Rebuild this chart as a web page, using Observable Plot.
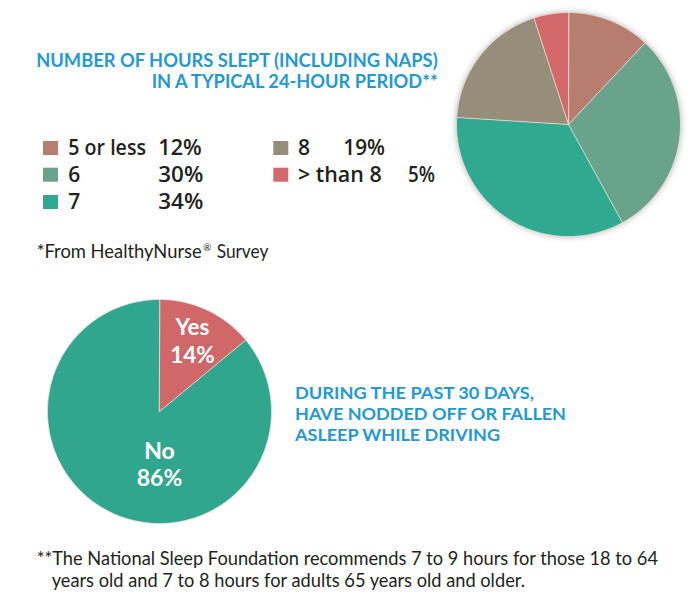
<!DOCTYPE html>
<html>
<head>
<meta charset="utf-8">
<script src="https://cdn.jsdelivr.net/npm/d3@7"></script>
<script src="https://cdn.jsdelivr.net/npm/@observablehq/plot@0.6"></script>
<style>
  body { margin: 0; background: #fff; }
  #page { position: relative; width: 700px; height: 614px; overflow: hidden; background: #fff; font-family: "Open Sans", sans-serif; }
  #page > svg { position: absolute; }
</style>
</head>
<body>
<div id="page"></div>
<script>
// ---------- DATA ----------
const hoursCats = ["5 or less", "6", "7", "8", "> than 8"];
const hoursValues = [12, 30, 34, 19, 5];
const hoursColors = ["#b77d6e", "#6aa38b", "#2fa98f", "#968d7b", "#d3696a"];

const drivingCats = ["Yes", "No"];
const drivingValues = [14, 86];
const drivingColors = ["#d0686a", "#30a68e"];

const titleTop = ["NUMBER OF HOURS SLEPT (INCLUDING NAPS)", "IN A TYPICAL 24-HOUR PERIOD**"];
const titleBottom = ["DURING THE PAST 30 DAYS,", "HAVE NODDED OFF OR FALLEN", "ASLEEP WHILE DRIVING"];
const sourceNote = ["*From HealthyNurse", "®", "Survey"];
const footnote = [
  "**The National Sleep Foundation recommends 7 to 9 hours for those 18 to 64",
  "years old and 7 to 8 hours for adults 65 years old and older."
];

// ---------- LAYOUT / STYLE ----------
const BLUE = "#2399d4";
const INK = "#231f20";
const R = 112, PAD = 8;
const topCenter = [567.5, 124];
const bottomCenter = [159.3, 410.5];
const drivingLabelAngle = [null, 180];   // degrees, null = mid-angle of slice
const drivingLabelRadius = [0.69, 0.48]; // fraction of radius
const drivingLabelSize = [22.5, 23];

// ---------- HELPERS ----------
function pieFeatures(cats, values) {
  const total = d3.sum(values);
  let a0 = 0;
  return cats.map((c, i) => {
    const a1 = a0 + values[i] / total * 2 * Math.PI;
    const n = Math.max(2, Math.ceil((a1 - a0) / (Math.PI / 180)));
    const ring = [[0, 0]];
    for (let k = 0; k <= n; k++) {
      const a = a0 + (a1 - a0) * k / n;
      ring.push([Math.sin(a), -Math.cos(a)]);
    }
    ring.push([0, 0]);
    const f = {type: "Feature", properties: {cat: c, value: values[i], a0, a1},
               geometry: {type: "Polygon", coordinates: [ring]}};
    a0 = a1;
    return f;
  });
}

function piePlot(feats, cats, colors, extraMarks) {
  return Plot.plot({
    width: 2 * (R + PAD), height: 2 * (R + PAD), margin: PAD,
    style: {background: "transparent", overflow: "visible"},
    projection: {type: "identity", domain: {type: "MultiPoint", coordinates: [[-1, -1], [1, 1]]}},
    color: {type: "ordinal", domain: cats, range: colors},
    marks: [
      Plot.geo(feats, {fill: d => d.properties.cat, stroke: "#efe2dc", strokeWidth: 0.9, strokeOpacity: 0.85}),
      ...(extraMarks || [])
    ]
  });
}

const page = d3.select("#page");

// ---------- TEXT OVERLAY ----------
const svg = page.append("svg").attr("width", 700).attr("height", 614)
  .style("left", "0px").style("top", "0px");

function addText(s, x, y, o) {
  const t = svg.append("text")
    .attr("x", x).attr("y", y)
    .attr("font-family", o.family || "Open Sans")
    .attr("font-size", o.size)
    .attr("font-weight", o.weight || 400)
    .attr("fill", o.fill || INK)
    .attr("text-anchor", o.anchor || "start");
  if (o.len) t.attr("textLength", o.len).attr("lengthAdjust", "spacingAndGlyphs");
  if (s != null) t.text(s);
  return t;
}

// top title (right aligned)
addText(titleTop[0], 437.7, 66.5, {size: 18, weight: 700, fill: BLUE, anchor: "end", len: 401.5, family: "Lato"});
addText(titleTop[1], 437.7, 88.3, {size: 18, weight: 700, fill: BLUE, anchor: "end", len: 286, family: "Lato"});

// legend
const hoursColor = Plot.scale({color: {type: "ordinal", domain: hoursCats, range: hoursColors}});
const legCol = [0, 0, 0, 1, 1];
const legRow = [0, 1, 2, 0, 1];
const rowBase = [155, 181.7, 209];
const sqX = [43, 273.3];
const labX = [68.3, 298];
const pctX = [158.3, 158.3, 158.3, 343.3, 408];
const labLen = [77.7, null, null, null, 83.7];
const pctLen = [43.4, 45, 45, 41.7, 27];
hoursCats.forEach((c, i) => {
  const yb = rowBase[legRow[i]];
  svg.append("rect").attr("x", sqX[legCol[i]]).attr("y", yb - 14).attr("width", 15).attr("height", 14)
    .attr("fill", hoursColor.apply(c));
  addText(c, labX[legCol[i]], yb, {size: 21, weight: 600, len: labLen[i]});
  addText(hoursValues[i] + "%", pctX[i], yb, {size: 21, weight: 600, len: pctLen[i]});
});

// source note
addText(sourceNote[0], 36.7, 258.3, {size: 18.5, family: "Lato", len: 165});
addText(sourceNote[1], 203, 251, {size: 10, family: "Lato"});
addText(sourceNote[2], 216.7, 258.3, {size: 18.5, family: "Lato", len: 51.6});

// bottom title (left aligned)
addText(titleBottom[0], 295, 399, {size: 17.5, weight: 700, fill: BLUE, len: 239, family: "Lato"});
addText(titleBottom[1], 295, 420, {size: 17.5, weight: 700, fill: BLUE, len: 271, family: "Lato"});
addText(titleBottom[2], 295, 441, {size: 17.5, weight: 700, fill: BLUE, len: 205, family: "Lato"});

// footnote
addText(footnote[0], 36.7, 565, {size: 18.5, family: "Lato", len: 621.3});
addText(footnote[1], 51.7, 586.7, {size: 18.5, family: "Lato", len: 473.3});

// ---------- PIES ----------
const hoursFeat = pieFeatures(hoursCats, hoursValues);
const topPie = piePlot(hoursFeat, hoursCats, hoursColors);
d3.select(topPie)
  .style("left", (topCenter[0] - R - PAD) + "px")
  .style("top", (topCenter[1] - R - PAD) + "px")
  .style("filter", "drop-shadow(0px 0px 3px rgba(0,0,0,0.28))");
page.node().appendChild(topPie);

const drivingFeat = pieFeatures(drivingCats, drivingValues);
const drivingLabels = drivingFeat.map((f, i) => {
  const p = f.properties;
  const a = drivingLabelAngle[i] == null ? (p.a0 + p.a1) / 2 : drivingLabelAngle[i] * Math.PI / 180;
  const rr = drivingLabelRadius[i];
  return {x: Math.sin(a) * rr, y: -Math.cos(a) * rr, name: p.cat, pct: `${p.value}%`, size: drivingLabelSize[i]};
});
const labelStyle = {x: "x", y: "y", fill: "white", fontWeight: 700, fontFamily: "Lato",
                    fontSize: d => d.size, lineAnchor: "middle"};
const bottomPie = piePlot(drivingFeat, drivingCats, drivingColors, [
  Plot.text(drivingLabels, {...labelStyle, text: "name", dy: -13.8}),
  Plot.text(drivingLabels, {...labelStyle, text: "pct", dy: 13.8})
]);
d3.select(bottomPie)
  .style("left", (bottomCenter[0] - R - PAD) + "px")
  .style("top", (bottomCenter[1] - R - PAD) + "px");
page.node().appendChild(bottomPie);
</script>
</body>
</html>
